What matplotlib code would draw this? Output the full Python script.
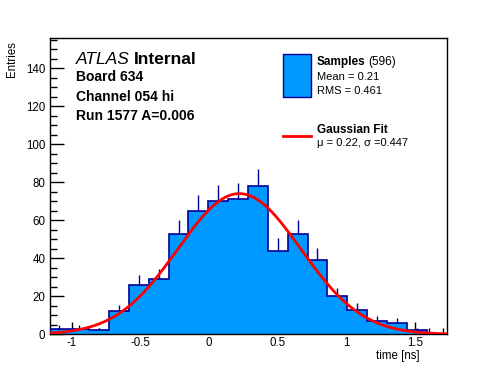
import numpy as np
import matplotlib
matplotlib.use("Agg")
import matplotlib.pyplot as plt
from matplotlib.ticker import MultipleLocator
from matplotlib.patches import Rectangle
from matplotlib.lines import Line2D

plt.rcParams['font.family'] = ['Liberation Sans', 'DejaVu Sans']
plt.rcParams['axes.unicode_minus'] = False

# ---- data ----
x_min, x_max = -1.16, 1.726
counts = [3, 3, 2, 12, 26, 29, 53, 65, 70, 71, 78, 44, 53, 39, 20, 13, 7, 6, 2, 0]
fit_mu = 0.22
fit_sigma = 0.447
fit_amp = 74.0
y_max = 156
x_ticks = [-1, -0.5, 0, 0.5, 1, 1.5]
x_tick_labels = ["-1", "-0.5", "0", "0.5", "1", "1.5"]
y_ticks = [0, 20, 40, 60, 80, 100, 120, 140]

W, H = 496, 372
fig = plt.figure(figsize=(W / 100, H / 100), dpi=100)
L, R, T, B = 49.5, 446.5, 37.7, 334.3
ax = fig.add_axes([L / W, 1 - B / H, (R - L) / W, (B - T) / H])

fill_col = '#0099ff'
edge_col = '#000099'

edges = np.linspace(x_min, x_max, len(counts) + 1)
cnt = np.array(counts, dtype=float)
ax.stairs(cnt, edges, fill=True, color=fill_col, linewidth=0, zorder=2)
ax.stairs(cnt, edges, fill=False, baseline=0, color=edge_col, linewidth=1.2, zorder=3)
centers = 0.5 * (edges[:-1] + edges[1:])
ax.vlines(centers, cnt, cnt + np.sqrt(cnt), color=edge_col, linewidth=1.0, zorder=3)

xx = np.linspace(x_min, x_max, 400)
yy = fit_amp * np.exp(-0.5 * ((xx - fit_mu) / fit_sigma) ** 2)
ax.plot(xx, yy, color='#ff0000', linewidth=2.0, zorder=4)

ax.set_xlim(x_min, x_max)
ax.set_ylim(0, y_max)
ax.set_xticks(x_ticks)
ax.set_xticklabels(x_tick_labels)
ax.set_yticks(y_ticks)
ax.xaxis.set_minor_locator(MultipleLocator(0.1))
ax.yaxis.set_minor_locator(MultipleLocator(5))
ax.tick_params(axis='both', which='both', direction='in', top=False, right=False,
               labelsize=8.3, width=1, color='black')
ax.tick_params(axis='y', which='major', length=10, pad=3)
ax.tick_params(axis='y', which='minor', length=5)
ax.tick_params(axis='x', which='major', length=9, pad=2)
ax.tick_params(axis='x', which='minor', length=4.5)
for s in ax.spines.values():
    s.set_linewidth(1.0)

def px(x, y):
    return x / W, 1 - y / H

fig.text(*px(6, 41), "Entries", rotation=90, ha='left', va='top', fontsize=8.3)
fig.text(*px(420, 359), "time [ns]", ha='right', va='baseline', fontsize=8.3)

# ATLAS label
t1 = fig.text(*px(76, 64), "ATLAS", fontstyle='italic', fontsize=12.5, va='baseline', ha='left')
fig.canvas.draw()
bb = t1.get_window_extent()
fig.text((bb.x1 + 4) / W, 1 - 64 / H, "Internal", fontweight='bold', fontsize=12.5,
         va='baseline', ha='left')
fig.text(*px(76, 81), "Board 634", fontweight='bold', fontsize=10, va='baseline')
fig.text(*px(76, 101), "Channel 054 hi", fontweight='bold', fontsize=10, va='baseline')
fig.text(*px(76, 120), "Run 1577 A=0.006", fontweight='bold', fontsize=10, va='baseline')

# legend
fig.patches.append(Rectangle(px(283, 97), 28 / W, 43 / H, transform=fig.transFigure,
                             facecolor=fill_col, edgecolor=edge_col, linewidth=1.0))
t2 = fig.text(*px(317, 65), "Samples", fontweight='bold', fontsize=8.5, va='baseline')
fig.canvas.draw()
bb = t2.get_window_extent()
fig.text((bb.x1 + 3) / W, 1 - 65 / H, "(596)", fontsize=8.5, va='baseline')
fig.text(*px(317, 80), "Mean = 0.21", fontsize=8, va='baseline')
fig.text(*px(317, 94), "RMS = 0.461", fontsize=8, va='baseline')
fig.lines.append(Line2D([283 / W, 311 / W], [1 - 136 / H, 1 - 136 / H],
                        transform=fig.transFigure, color='#ff0000', linewidth=2.0))
fig.text(*px(317, 133), "Gaussian Fit", fontweight='bold', fontsize=8.5, va='baseline')
fig.text(*px(317, 146), "\u03bc = 0.22, \u03c3 =0.447", fontsize=8, va='baseline')

fig.savefig("out.png", dpi=100)
